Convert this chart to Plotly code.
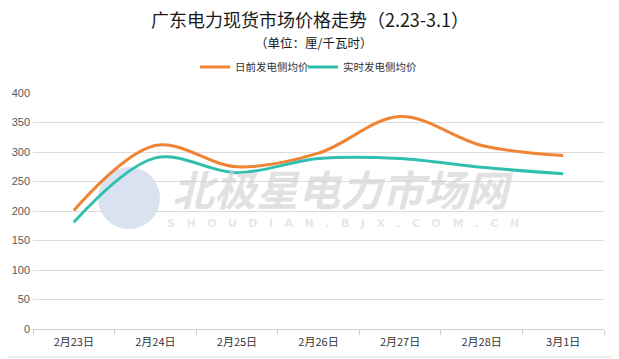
import plotly.graph_objects as go

categories = ["2月23日", "2月24日", "2月25日", "2月26日", "2月27日", "2月28日", "3月1日"]
day_ahead = [201, 311, 275, 298, 360, 311, 294]
real_time = [181, 290, 265, 289, 289, 274, 263]
y_ticks = [0, 50, 100, 150, 200, 250, 300, 350, 400]
title_text = "广东电力现货市场价格走势（2.23-3.1）"
subtitle_text = "（单位：厘/千瓦时）"

FONT = "Noto Sans CJK SC"
OFF = 8  # page body margin offset
W, H = 619 - OFF, 359 - OFF
L, R, T, B = 33 - OFF, 15, 93 - OFF, 30
PW, PH = W - L - R, H - T - B


def fx(x):  # reference screen x -> paper fraction
    return (x - OFF - L) / PW


def fy(y):  # reference screen y -> paper fraction
    return (H - B - (y - OFF)) / PH


fig = go.Figure()
fig.add_trace(go.Scatter(
    x=categories, y=day_ahead, name="日前发电侧均价", mode="lines", legend="legend",
    line=dict(color="#EE8434", width=3, shape="spline", smoothing=1.0),
))
fig.add_trace(go.Scatter(
    x=categories, y=real_time, name="实时发电侧均价", mode="lines", legend="legend2",
    line=dict(color="#30BFAE", width=3, shape="spline", smoothing=1.0),
))

# watermark logo circle (decoration)
fig.add_shape(type="circle", xref="paper", yref="paper",
              x0=fx(98), x1=fx(160), y0=fy(229), y1=fy(167),
              fillcolor="rgba(200,214,234,0.7)", line=dict(width=0), layer="below")

fig.add_annotation(xref="paper", yref="paper", x=fx(343), y=fy(187),
                   text="<b><i>北极星电力市场网</i></b>", showarrow=False, borderpad=0,
                   font=dict(family=FONT, size=42, color="rgba(205,205,205,0.6)"))
fig.add_annotation(xref="paper", yref="paper", x=fx(343), y=fy(223),
                   text="<b>" + "   ".join("SHOUDIAN.BJX.COM.CN") + "</b>", showarrow=False,
                   borderpad=0,
                   font=dict(family="DejaVu Sans", size=11, color="rgba(215,215,215,0.6)"))

legend_style = dict(orientation="h", xanchor="left", yref="container", yanchor="middle",
                    y=1 - (67 - OFF) / H, font=dict(family=FONT, size=10.5, color="#333333"),
                    bgcolor="rgba(0,0,0,0)", itemwidth=30)

fig.update_layout(
    width=W, height=H,
    margin=dict(l=L, r=R, t=T, b=B, autoexpand=False),
    paper_bgcolor="white", plot_bgcolor="white",
    title=dict(text=title_text, x=fx(310), xref="paper", xanchor="center",
               y=1 - (21 - OFF) / H, yanchor="middle",
               font=dict(family=FONT, size=18, color="#1a1a1a")),
    legend=dict(x=fx(195), **legend_style),
    legend2=dict(x=fx(303), **legend_style),
    showlegend=True,
)
fig.add_annotation(xref="paper", yref="paper", x=fx(313), y=fy(43),
                   text=subtitle_text, showarrow=False, yanchor="middle", borderpad=0,
                   font=dict(family=FONT, size=12.5, color="#1a1a1a"))

fig.update_xaxes(showgrid=False, showline=True, linecolor="#D0D0D0", linewidth=1,
                 ticks="outside", tickson="boundaries", ticklen=5, tickcolor="#D0D0D0",
                 ticklabelstandoff=3,
                 tickfont=dict(family=FONT, size=11, color="#333333"), range=[-0.5, 6.5])
fig.update_yaxes(range=[0, 400], tickvals=y_ticks, showgrid=True, gridcolor="#DCDCDC",
                 zeroline=False, showline=False, ticks="", ticklabelstandoff=2,
                 tickfont=dict(family="Liberation Sans", size=11, color="#595959"))

# outer frame (right and bottom edges visible in page)
fig.add_shape(type="line", xref="paper", yref="paper",
              x0=fx(617), x1=fx(617), y0=fy(357), y1=fy(OFF),
              line=dict(color="#D9D9D9", width=1))
fig.add_shape(type="line", xref="paper", yref="paper",
              x0=fx(OFF), x1=fx(617), y0=fy(357), y1=fy(357),
              line=dict(color="#D9D9D9", width=1))

fig.write_html("out.html")
